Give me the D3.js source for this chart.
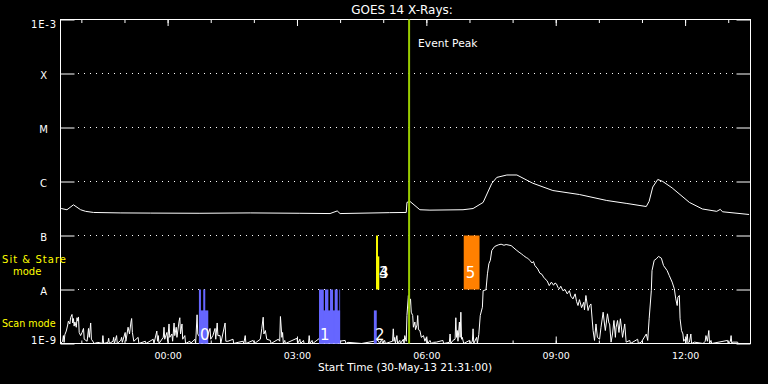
<!DOCTYPE html>
<html>
<head>
<meta charset="utf-8">
<script src="https://cdn.jsdelivr.net/npm/d3@7"></script>
<style>
  body { margin: 0; background: #000; }
  svg { display: block; font-family: 'DejaVu Sans', sans-serif; }
</style>
</head>
<body>
<div id="plot_area"></div>
<script>
const startTime = Date.UTC(2013, 4, 30, 21, 31)
const spanMinutes = 960
const eventPeak = 485

const levelValues = [1e-9, 1e-8, 1e-7, 1e-6, 1e-5, 1e-4, 1e-3]
const levelLabels = ['1E-9', 'A', 'B', 'C', 'M', 'X', '1E-3']

// [minutes after start, flux W/m2]
const longChannel = [
  [0, 3.16e-7], [1, 3.16e-7], [9, 3.0e-7], [18, 3.7e-7], [28, 3.0e-7], [35, 2.8e-7], [46, 2.67e-7],
  [83, 2.62e-7], [125, 2.6e-7], [194, 2.58e-7], [264, 2.62e-7], [333, 2.58e-7], [375, 2.55e-7],
  [385, 2.85e-7], [389, 2.55e-7], [458, 2.65e-7], [481, 2.67e-7], [482, 4.1e-7], [486, 4.3e-7],
  [500, 3.0e-7], [514, 2.95e-7], [560, 3.0e-7], [574, 3.16e-7], [588, 4.1e-7], [600, 9.2e-7],
  [607, 1.19e-6], [621, 1.32e-6], [635, 1.32e-6], [657, 9.3e-7], [685, 6.8e-7], [722, 5.74e-7],
  [760, 4.45e-7], [788, 3.92e-7], [815, 3.44e-7], [819, 4.3e-7], [824, 7.9e-7], [831, 1.09e-6],
  [838, 1.0e-6], [851, 7.6e-7], [875, 4.1e-7], [893, 3.1e-7], [913, 2.8e-7], [918, 3.05e-7],
  [921, 2.75e-7], [958, 2.45e-7]
]

const shortChannel = [
  [0, 1.0e-9], [3, 1.1e-9], [4, 1.4e-9], [5, 1.05e-9], [6, 1.45e-9], [8, 1.7e-9], [10, 2.2e-9], [11, 2.6e-9],
  [13, 2.3e-9], [14, 3.0e-9], [16, 3.45e-9], [17, 2.4e-9], [18, 2.9e-9], [19, 2.1e-9], [20, 2.5e-9], [22, 2.0e-9],
  [23, 3.0e-9], [24, 2.6e-9], [25, 3.1e-9], [26, 1.6e-9], [28, 1.4e-9], [30, 1.6e-9], [32, 1.9e-9], [33, 1.2e-9],
  [37, 1.1e-9], [39, 1.9e-9], [40, 1.3e-9], [42, 2.4e-9], [43, 1.2e-9], [47, 1.0e-9], [52, 1.05e-9], [58, 1.0e-9],
  [59, 1.4e-9], [60, 1.0e-9], [66, 1.05e-9], [67, 1.25e-9], [68, 1.0e-9], [73, 1.1e-9], [74, 1.3e-9], [75, 1.0e-9],
  [78, 1.4e-9], [79, 1.0e-9], [84, 1.15e-9], [85, 1.3e-9], [86, 1.05e-9], [90, 1.6e-9], [91, 1.1e-9], [94, 2.0e-9],
  [96, 1.5e-9], [98, 2.5e-9], [99, 2.9e-9], [100, 1.6e-9], [102, 1.1e-9], [108, 1.3e-9], [109, 1.0e-9], [118, 1.1e-9],
  [119, 1.0e-9], [129, 1.2e-9], [130, 1.0e-9], [134, 1.7e-9], [135, 1.1e-9], [136, 1.4e-9], [137, 1.0e-9], [143, 1.3e-9],
  [144, 2.0e-9], [145, 1.2e-9], [148, 1.6e-9], [149, 1.1e-9], [151, 2.3e-9], [152, 1.3e-9], [155, 1.5e-9], [156, 1.1e-9],
  [158, 2.4e-9], [159, 1.4e-9], [161, 2.0e-9], [162, 1.3e-9], [165, 2.6e-9], [166, 3.0e-9], [167, 1.5e-9], [169, 2.3e-9],
  [170, 1.2e-9], [173, 1.4e-9], [174, 1.0e-9], [180, 1.1e-9], [181, 1.0e-9], [187, 1.2e-9], [188, 1.0e-9], [190, 3.4e-9],
  [191, 1.5e-9], [194, 1.3e-9], [198, 1.6e-9], [201, 1.9e-9], [203, 1.2e-9], [208, 1.9e-9], [209, 1.2e-9], [212, 1.4e-9],
  [215, 1.9e-9], [216, 1.2e-9], [218, 2.4e-9], [219, 1.4e-9], [222, 1.4e-9], [223, 1.0e-9], [229, 2.4e-9], [230, 1.1e-9],
  [233, 1.1e-9], [240, 1.2e-9], [241, 1.0e-9], [247, 1.05e-9], [254, 1.1e-9], [255, 1.0e-9], [257, 1.4e-9], [258, 1.0e-9],
  [268, 1.14e-9], [270, 1.0e-9], [278, 1.2e-9], [280, 1.87e-9], [282, 3.07e-9], [283, 1.5e-9], [285, 1.74e-9], [287, 1.2e-9],
  [292, 1.14e-9], [293, 1.0e-9], [303, 1.2e-9], [305, 1.1e-9], [306, 3.16e-9], [308, 1.3e-9], [309, 1.6e-9], [310, 1.0e-9],
  [312, 1.14e-9], [313, 1.0e-9], [329, 1.25e-9], [330, 1.0e-9], [333, 1.2e-9], [334, 1.0e-9], [338, 1.14e-9], [339, 1.0e-9],
  [345, 1.0e-9], [346, 1.4e-9], [347, 1.0e-9], [350, 1.14e-9], [351, 1.0e-9], [362, 1.3e-9], [366, 1.6e-9], [372, 1.2e-9],
  [380, 1.4e-9], [388, 1.1e-9], [396, 1.14e-9], [397, 1.0e-9], [400, 1.05e-9], [419, 1.0e-9], [442, 1.14e-9], [444, 1.0e-9],
  [447, 1.2e-9], [448, 1.0e-9], [451, 1.14e-9], [452, 1.0e-9], [462, 1.1e-9], [463, 1.87e-9], [464, 1.1e-9], [465, 1.3e-9],
  [466, 1.0e-9], [468, 1.4e-9], [469, 1.0e-9], [472, 1.14e-9], [473, 1.0e-9], [477, 1.2e-9], [478, 1.0e-9], [479, 1.4e-9],
  [481, 1.1e-9], [482, 3.3e-9], [484, 7.74e-9], [485, 4.5e-9], [487, 6.7e-9], [488, 3.8e-9], [490, 3.3e-9], [491, 2.0e-9],
  [493, 2.5e-9], [494, 1.8e-9], [496, 2.2e-9], [497, 3.3e-9], [498, 1.8e-9], [500, 1.74e-9], [502, 1.3e-9], [505, 1.4e-9],
  [507, 1.1e-9], [509, 1.3e-9], [511, 1.0e-9], [514, 1.14e-9], [516, 1.0e-9], [519, 1.05e-9], [523, 1.06e-9], [532, 1.14e-9],
  [533, 1.0e-9], [541, 1.05e-9], [542, 1.5e-9], [543, 1.0e-9], [546, 1.14e-9], [549, 1.2e-9], [550, 3.0e-9], [551, 1.3e-9],
  [552, 1.74e-9], [553, 1.1e-9], [555, 2.5e-9], [556, 1.3e-9], [557, 3.8e-9], [558, 1.2e-9], [559, 1.3e-9], [561, 1.0e-9],
  [569, 1.14e-9], [570, 1.0e-9], [573, 1.1e-9], [574, 1.87e-9], [575, 1.0e-9], [579, 1.3e-9], [580, 1.0e-9], [582, 1.47e-9],
  [584, 3.3e-9], [587, 4.7e-9], [588, 9.5e-9], [592, 9.9e-9], [594, 1.95e-8], [596, 3.0e-8], [598, 3.46e-8], [600, 5.27e-8],
  [604, 6.25e-8], [609, 6.7e-8], [613, 6.9e-8], [617, 6.6e-8], [620, 6.8e-8], [627, 6.5e-8], [634, 5.4e-8], [638, 4.9e-8],
  [641, 4.6e-8], [644, 4.27e-8], [648, 3.9e-8], [650, 3.8e-8], [653, 3.46e-8], [656, 3.1e-8], [658, 3.3e-8], [660, 2.78e-8],
  [664, 2.4e-8], [667, 2.0e-8], [670, 1.9e-8], [672, 1.7e-8], [674, 1.58e-8], [677, 1.45e-8], [680, 1.18e-8], [683, 1.37e-8],
  [686, 1.2e-8], [688, 1.32e-8], [690, 1.27e-8], [692, 1.1e-8], [694, 1.03e-8], [696, 1.15e-8], [699, 9.5e-9], [702, 1.0e-8],
  [705, 8.3e-9], [708, 9.5e-9], [710, 7.5e-9], [713, 6.7e-9], [716, 8.3e-9], [718, 6.0e-9], [720, 5.05e-9], [722, 6.5e-9],
  [725, 4.6e-9], [728, 5.8e-9], [729, 4.2e-9], [731, 7.74e-9], [734, 4.08e-9], [736, 5.0e-9], [738, 5.4e-9], [740, 2.5e-9],
  [741, 1.74e-9], [743, 1.14e-9], [745, 2.3e-9], [747, 1.3e-9], [750, 1.2e-9], [752, 2.0e-9], [755, 3.8e-9], [757, 2.2e-9],
  [758, 1.74e-9], [761, 3.55e-9], [763, 2.4e-9], [764, 2.3e-9], [766, 1.06e-9], [768, 1.5e-9], [770, 2.67e-9], [772, 1.3e-9],
  [773, 2.0e-9], [775, 2.67e-9], [777, 1.6e-9], [779, 2.87e-9], [782, 1.3e-9], [785, 2.3e-9], [787, 1.06e-9], [792, 1.14e-9],
  [793, 1.0e-9], [803, 1.2e-9], [804, 1.0e-9], [808, 1.06e-9], [815, 1.5e-9], [817, 1.14e-9], [819, 2.87e-9], [822, 9.5e-9],
  [823, 2.24e-8], [826, 3.46e-8], [829, 3.7e-8], [832, 4.1e-8], [836, 3.8e-8], [839, 2.78e-8], [844, 2.24e-8], [847, 1.81e-8],
  [851, 1.37e-8], [854, 1.03e-8], [856, 6.7e-9], [858, 5.05e-9], [859, 7.2e-9], [861, 7.74e-9], [862, 2.87e-9], [864, 1.74e-9],
  [866, 1.5e-9], [867, 1.1e-9], [869, 1.2e-9], [870, 1.0e-9], [872, 1.5e-9], [873, 1.0e-9], [875, 1.06e-9], [877, 1.5e-9],
  [878, 1.0e-9], [882, 1.06e-9], [894, 1.0e-9], [897, 1.1e-9], [898, 1.4e-9], [900, 1.1e-9], [902, 1.74e-9], [903, 1.0e-9],
  [905, 1.14e-9], [906, 1.0e-9], [928, 1.14e-9], [929, 1.0e-9], [932, 1.1e-9], [933, 1.4e-9], [934, 1.0e-9], [935, 1.06e-9],
  [942, 1.06e-9], [943, 1.0e-9], [949, 1.0e-9], [960, 1.0e-9]
]

// scan mode windows: [start min, end min, top level]
const scanBars = [
  [192.6, 205.6, 4.1e-9], [192.6, 195.4, 1e-8], [198.6, 201.4, 1e-8],
  [359.7, 389, 4.1e-9], [359.7, 366.3, 1e-8], [368, 372.7, 1e-8], [375, 379.2, 1e-8], [381.5, 385.7, 1e-8], [388, 389, 1e-8],
  [436, 440, 4.1e-9]
]
const scanLabels = [['0', 192.6], ['1', 359.7], ['2', 436]]

// sit & stare windows: [id, start min, end min, top level]
const stareBars = [['3', 439, 441.7, 1e-7], ['4', 441.7, 443.5, 4.1e-8], ['5', 561, 583, 1e-7]]
const stareLabels = [['3', 441.7], ['4', 441.7], ['5', 562.5]]

const margin = { top: 19.5, right: 17.5, bottom: 40.5, left: 60.5 },
  svgWidth = 768,
  svgHeight = 384,
  chartWidth = svgWidth - margin.left - margin.right,
  chartHeight = svgHeight - margin.top - margin.bottom

const toDate = m => new Date(startTime + m * 60000)

const svg = d3.select('#plot_area').append('svg')
  .attr('width', svgWidth)
  .attr('height', svgHeight)

svg.append('rect').attr('width', svgWidth).attr('height', svgHeight).attr('fill', '#000')

let chartGroup = svg.append('g')
  .attr('transform', `translate(${margin.left}, ${margin.top})`)

const x = d3.scaleUtc()
  .domain([toDate(0), toDate(spanMinutes)])
  .range([0, chartWidth])

const y = d3.scaleLog()
  .domain([1e-9, 1e-3])
  .range([chartHeight, 0])

svg.append('defs').append('clipPath').attr('id', 'plotClip')
  .append('rect').attr('width', chartWidth).attr('height', chartHeight)

function styleAxis(g) {
  g.select('.domain').remove()
  g.selectAll('line').attr('stroke', '#fff')
  g.selectAll('text').attr('fill', '#fff').attr('font-family', 'DejaVu Sans')
}

// time axes, hourly minor and 3-hourly major ticks
chartGroup.append('g')
  .attr('transform', `translate(0, ${chartHeight})`)
  .call(d3.axisBottom(x).ticks(d3.utcHour.every(1)).tickSize(-3).tickFormat(''))
  .call(styleAxis)

chartGroup.append('g')
  .attr('transform', `translate(0, ${chartHeight})`)
  .call(d3.axisBottom(x).ticks(d3.utcHour.every(3)).tickSize(-7).tickPadding(9)
    .tickFormat(d3.utcFormat('%H:%M')))
  .call(styleAxis)
  .call(g => g.selectAll('text').attr('font-size', 9.5))

chartGroup.append('g')
  .call(d3.axisTop(x).ticks(d3.utcHour.every(1)).tickSize(-3.5).tickFormat(''))
  .call(styleAxis)

chartGroup.append('g')
  .call(d3.axisTop(x).ticks(d3.utcHour.every(3)).tickSize(-6.5).tickFormat(''))
  .call(styleAxis)

// flux class axes
chartGroup.append('g')
  .call(d3.axisLeft(y).tickValues(levelValues).tickSize(-14).tickFormat((d, i) => levelLabels[i]))
  .call(styleAxis)
  .call(g => g.selectAll('text')
    .attr('x', -16.5)
    .attr('text-anchor', 'middle')
    .attr('font-size', 10)
    .attr('letter-spacing', 0.8)
    .attr('dy', (d, i) => i === 0 ? '0em' : i === levelValues.length - 1 ? '0.75em' : '0.45em'))

chartGroup.append('g')
  .attr('transform', `translate(${chartWidth}, 0)`)
  .call(d3.axisRight(y).tickValues(levelValues).tickSize(-14).tickFormat(''))
  .call(styleAxis)

chartGroup.append('g')
  .selectAll('line')
  .data(levelValues.slice(1, -1))
  .enter()
  .append('line')
  .attr('x1', 17.5)
  .attr('x2', chartWidth - 15)
  .attr('y1', d => y(d))
  .attr('y2', d => y(d))
  .attr('stroke', '#fff')
  .attr('stroke-dasharray', '1,5')

chartGroup.append('rect')
  .attr('width', chartWidth)
  .attr('height', chartHeight)
  .attr('fill', 'none')
  .attr('stroke', '#fff')

// curves
const fluxLine = d3.line()
  .x(d => x(toDate(d[0])))
  .y(d => y(Math.max(d[1], 1e-9)))

let curveGroup = chartGroup.append('g').attr('clip-path', 'url(#plotClip)')

curveGroup.append('path')
  .datum(longChannel)
  .attr('d', fluxLine)
  .attr('fill', 'none')
  .attr('stroke', '#fff')
  .attr('stroke-width', 1)

curveGroup.append('path')
  .datum(shortChannel)
  .attr('d', fluxLine)
  .attr('fill', 'none')
  .attr('stroke', '#fff')
  .attr('stroke-width', 1)

// observing mode bars
chartGroup.append('g')
  .selectAll('rect')
  .data(scanBars)
  .enter()
  .append('rect')
  .attr('x', d => x(toDate(d[0])))
  .attr('width', d => x(toDate(d[1])) - x(toDate(d[0])))
  .attr('y', d => y(d[2]))
  .attr('height', d => y(1e-9) - y(d[2]))
  .attr('fill', '#6666ff')

const stareColors = { '3': '#ffff00', '4': '#ffff00', '5': '#ff8000' }

chartGroup.append('g')
  .selectAll('rect')
  .data(stareBars)
  .enter()
  .append('rect')
  .attr('x', d => x(toDate(d[1])))
  .attr('width', d => x(toDate(d[2])) - x(toDate(d[1])))
  .attr('y', d => y(d[3]))
  .attr('height', d => y(1e-8) - y(d[3]))
  .attr('fill', d => stareColors[d[0]])

chartGroup.append('g')
  .selectAll('text')
  .data(scanLabels)
  .enter()
  .append('text')
  .attr('x', d => x(toDate(d[1])) + 1)
  .attr('y', y(1e-9) - 3.5)
  .attr('font-size', 15)
  .attr('fill', '#fff')
  .text(d => d[0])

chartGroup.append('g')
  .selectAll('text')
  .data(stareLabels)
  .enter()
  .append('text')
  .attr('x', d => x(toDate(d[1])) + 1)
  .attr('y', y(1e-8) - 11.5)
  .attr('font-size', 15)
  .attr('fill', '#fff')
  .text(d => d[0])

// event peak marker
chartGroup.append('line')
  .attr('x1', x(toDate(eventPeak)))
  .attr('x2', x(toDate(eventPeak)))
  .attr('y1', 0)
  .attr('y2', chartHeight)
  .attr('stroke', '#99cc00')
  .attr('stroke-width', 2)

chartGroup.append('text')
  .attr('x', x(toDate(eventPeak)) + 9)
  .attr('y', 27)
  .attr('font-size', 10.7)
  .attr('fill', '#fff')
  .text('Event Peak')

// titles and mode labels
svg.append('text')
  .attr('x', 402)
  .attr('y', 14)
  .attr('text-anchor', 'middle')
  .attr('font-size', 12)
  .attr('fill', '#fff')
  .text('GOES 14 X-Rays:')

svg.append('text')
  .attr('x', 405)
  .attr('y', 370.5)
  .attr('text-anchor', 'middle')
  .attr('font-size', 10.6)
  .attr('fill', '#fff')
  .text('Start Time (30-May-13 21:31:00)')

svg.append('text')
  .attr('x', 2)
  .attr('y', 262.5)
  .attr('font-size', 10)
  .attr('textLength', 64)
  .attr('lengthAdjust', 'spacing')
  .attr('fill', '#ffff00')
  .text('Sit & Stare')

svg.append('text')
  .attr('x', 13)
  .attr('y', 275)
  .attr('font-size', 10)
  .attr('fill', '#ffff00')
  .text('mode')

svg.append('text')
  .attr('x', 2)
  .attr('y', 326.5)
  .attr('font-size', 9.6)
  .attr('fill', '#ffff00')
  .text('Scan mode')
</script>
</body>
</html>
